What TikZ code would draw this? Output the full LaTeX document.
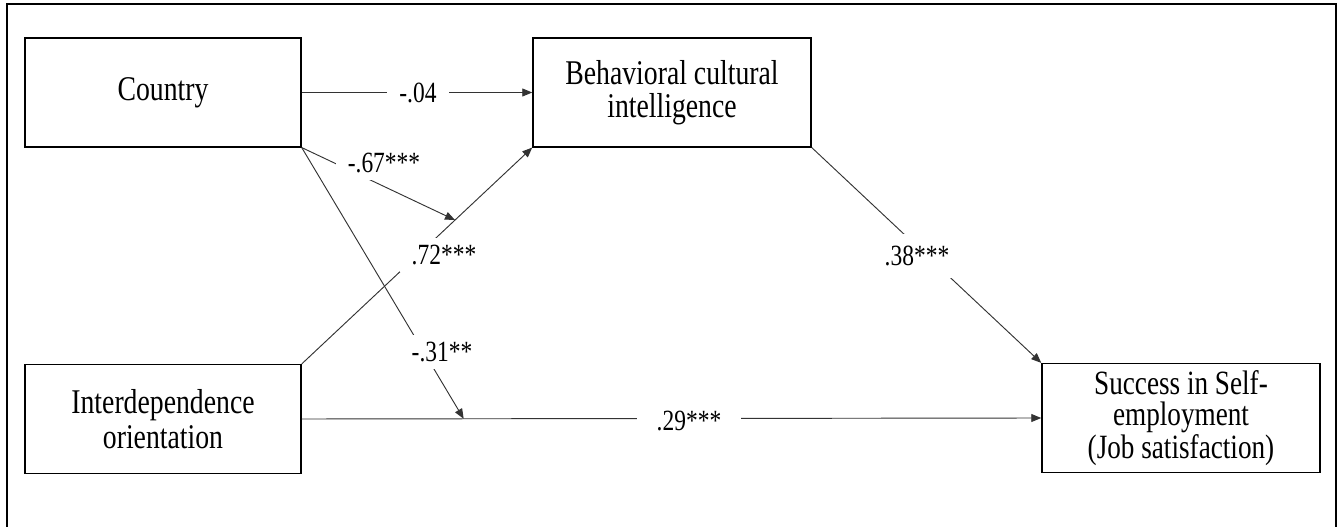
\documentclass[tikz,border=0pt]{standalone}
\usepackage{fontspec}
\setmainfont{Liberation Serif}[FakeStretch=0.8]
\usetikzlibrary{arrows.meta}

\begin{document}
\begin{tikzpicture}[x=0.75pt, y=-0.75pt,
  varbox/.style={draw=black, line width=1.1pt, rectangle, align=center,
    minimum width=207pt, minimum height=81.5pt, inner sep=0pt,
    font=\fontsize{26}{26}\selectfont},
  path/.style={draw=black!80, line width=0.7pt},
  arrowpath/.style={path, -{Triangle[length=7.5pt,width=6pt]}},
  lbl/.style={fill=white, inner xsep=9pt, inner ysep=5pt,
    font=\fontsize{22}{22}\selectfont}]

  % canvas and outer frame
  \useasboundingbox (0,0) rectangle (1343,527);
  \draw[line width=1.5pt] (7,527) -- (7,4) -- (1336,4) -- (1336,527);

  % variables
  \node[varbox] (country) at (163,92.5) {Country};
  \node[varbox, minimum width=208.5pt, font=\fontsize{26}{24.5}\selectfont]
    (bci) at (672,92.5) {Behavioral cultural\\intelligence};
  \node[varbox] (io) at (163,419) {Interdependence\\orientation};
  \node[varbox, minimum width=208.5pt,
    font=\fontsize{25.5}{23.3}\selectfont] (success) at (1181,418)
    {Success in Self-\\employment\\(Job satisfaction)};

  % direct paths
  \draw[arrowpath] (io.north east) -- coordinate[pos=0.665] (m1) (bci.south west);
  \draw[arrowpath] (io.east) -- coordinate[pos=0.219] (m2) (success.west);
  \draw[arrowpath] (country.east) -- (bci.west);
  \draw[arrowpath] (bci.south east) -- (success.north west);

  % moderation paths
  \draw[arrowpath] (country.south east) -- (m1);
  \draw[arrowpath] (country.south east) -- (m2);

  % coefficients
  \node[lbl] (c04) at (418,93) {-.04};
  \node[lbl] (c67) at (384,163) {-.67***};
  \node[lbl] (c72) at (444,255) {.72***};
  \node[lbl] (c31) at (442,352) {-.31**};
  \node[lbl, inner xsep=15pt] (c29) at (689,421) {.29***};
  \node[lbl, inner ysep=9pt] (c38) at (917,256) {.38***};
\end{tikzpicture}
\end{document}
